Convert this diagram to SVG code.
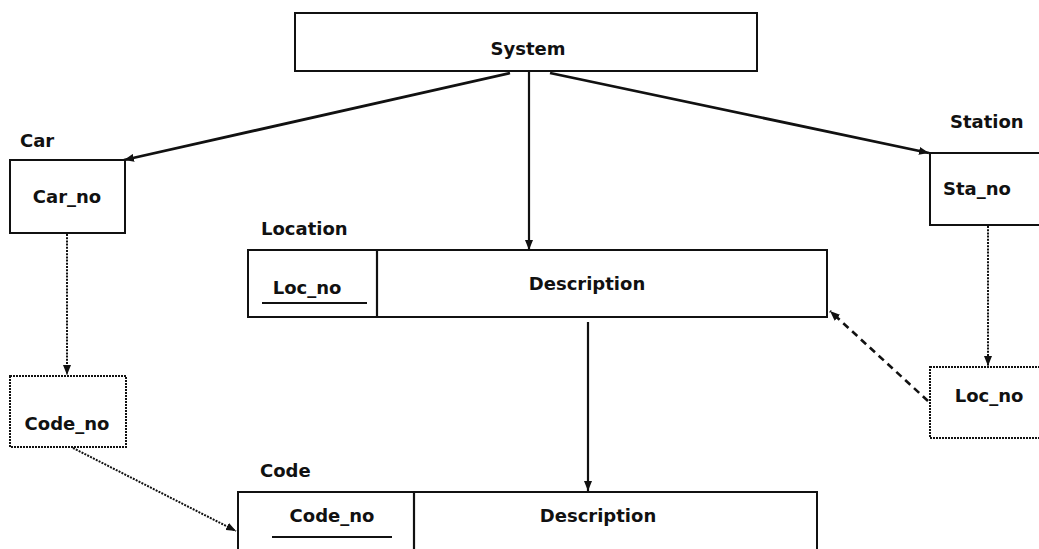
<svg xmlns="http://www.w3.org/2000/svg" width="1039" height="549" viewBox="0 0 1039 549">
<style>
text{font-family:"DejaVu Sans",sans-serif;font-weight:bold;font-size:18px;fill:#111}
.box{fill:#fff;stroke:#111;stroke-width:2}
.dbox{fill:#fff;stroke:#111;stroke-width:2;stroke-dasharray:2 1}
.solid{fill:none;stroke:#111;stroke-width:2.2}
.thick{fill:none;stroke:#111;stroke-width:2.8}
.dotted{fill:none;stroke:#111;stroke-width:2;stroke-dasharray:2 1.2}
.dashed{fill:none;stroke:#111;stroke-width:2.6;stroke-dasharray:7 5}
.ul{stroke:#111;stroke-width:2.2}
</style>
<defs>
<marker id="ah" viewBox="0 0 10 8" refX="10" refY="4" markerWidth="10" markerHeight="8" markerUnits="userSpaceOnUse" orient="auto">
<path d="M0,0 L10,4 L0,8 Z" fill="#111"/>
</marker>
</defs>
<g id="connectors">
<path class="thick" d="M510,73 L124,160" marker-end="url(#ah)"/>
<path class="thick" d="M550,73 L929,153" marker-end="url(#ah)"/>
<path class="solid" d="M529,72 L529,250" marker-end="url(#ah)"/>
<path class="solid" d="M588,322 L588,491" marker-end="url(#ah)"/>
<path class="dotted" d="M67,234 L67,375" marker-end="url(#ah)"/>
<path class="dotted" d="M988,226 L988,366" marker-end="url(#ah)"/>
<path class="dotted" d="M73,448 L236,531" marker-end="url(#ah)"/>
<path class="dashed" d="M928,401 L830,311" marker-end="url(#ah)"/>
</g>
<g id="system">
<rect class="box" x="295" y="13" width="462" height="58"/>
<text x="528" y="55" text-anchor="middle">System</text>
</g>
<g id="car">
<text x="20" y="147">Car</text>
<rect class="box" x="10" y="160" width="115" height="73"/>
<text x="67" y="203" text-anchor="middle">Car_no</text>
</g>
<g id="car-code">
<rect class="dbox" x="10" y="376" width="116" height="71"/>
<text x="67" y="430" text-anchor="middle">Code_no</text>
</g>
<g id="location">
<text x="261" y="235">Location</text>
<rect class="box" x="248" y="250" width="579" height="67"/>
<line class="ul" x1="377" y1="250" x2="377" y2="317"/>
<text x="307" y="294" text-anchor="middle">Loc_no</text>
<line class="ul" x1="262" y1="303" x2="367" y2="303"/>
<text x="587" y="290" text-anchor="middle">Description</text>
</g>
<g id="station">
<text x="950" y="128">Station</text>
<rect class="box" x="930" y="153" width="120" height="72"/>
<text x="977" y="195" text-anchor="middle">Sta_no</text>
</g>
<g id="station-loc">
<rect class="dbox" x="930" y="367" width="120" height="71"/>
<text x="989" y="402" text-anchor="middle">Loc_no</text>
</g>
<g id="code">
<text x="260" y="477">Code</text>
<rect class="box" x="238" y="492" width="579" height="62"/>
<line class="ul" x1="414" y1="492" x2="414" y2="549"/>
<text x="332" y="522" text-anchor="middle">Code_no</text>
<line class="ul" x1="272" y1="537" x2="392" y2="537"/>
<text x="598" y="522" text-anchor="middle">Description</text>
</g>
</svg>
